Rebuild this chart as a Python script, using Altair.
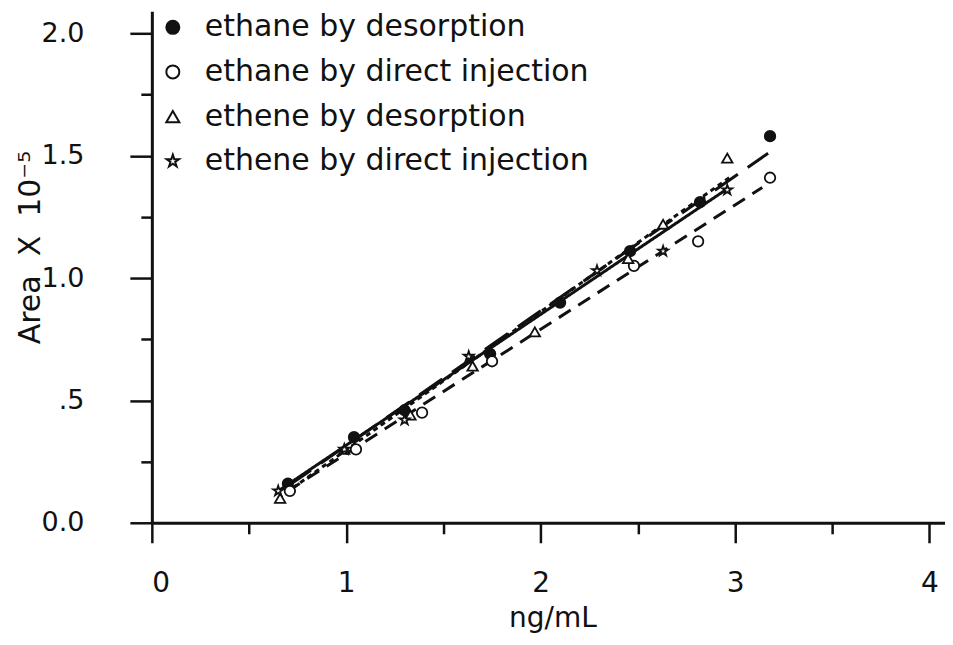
import altair as alt
import pandas as pd

# ---------------- data ----------------
series_names = [
    "ethane by desorption",
    "ethane by direct injection",
    "ethene by desorption",
    "ethene by direct injection",
]

x_ethane_desorption = [0.70, 1.04, 1.30, 1.74, 2.10, 2.46, 2.82, 3.18]
y_ethane_desorption = [0.16, 0.35, 0.46, 0.69, 0.90, 1.11, 1.31, 1.58]

x_ethane_direct = [0.71, 1.05, 1.39, 1.75, 2.48, 2.81, 3.18]
y_ethane_direct = [0.13, 0.30, 0.45, 0.66, 1.05, 1.15, 1.41]

x_ethene_desorption = [0.66, 0.99, 1.33, 1.65, 1.97, 2.45, 2.63, 2.96]
y_ethene_desorption = [0.10, 0.30, 0.44, 0.64, 0.78, 1.08, 1.22, 1.49]

x_ethene_direct = [0.65, 0.99, 1.30, 1.63, 2.29, 2.63, 2.96]
y_ethene_direct = [0.13, 0.30, 0.42, 0.68, 1.03, 1.11, 1.36]

# fitted lines (end points)
fit_x_start = [0.70, 0.70, 0.65, 0.65]
fit_y_start = [0.15, 0.13, 0.10, 0.13]
fit_x_end = [3.17, 3.14, 2.97, 2.97]
fit_y_end = [1.51, 1.37, 1.41, 1.37]

x_tick_values = [0, 0.5, 1, 1.5, 2, 2.5, 3, 3.5, 4]
x_label_values = [0, 1, 2, 3, 4]
x_label_texts = ["0", "1", "2", "3", "4"]
y_tick_values = [0, 0.25, 0.5, 0.75, 1.0, 1.25, 1.5, 1.75, 2.0]
y_label_values = [0, 0.5, 1.0, 1.5, 2.0]
y_label_texts = ["0.0", ".5", "1.0", "1.5", "2.0"]

# ---------------- styles ----------------
STAR = ("M0,-1L0.2245,-0.309L0.951,-0.309L0.3633,0.118L0.5878,0.809L0,0.382"
        "L-0.5878,0.809L-0.3633,0.118L-0.951,-0.309L-0.2245,-0.309Z")
marker_shapes = ["circle", "circle", "triangle-up", STAR]
marker_fills = ["#111111", "white", "white", "white"]
line_dashes = [[28, 12], [14, 9], [5, 4], [1, 0]]
FONT = "DejaVu Sans"
INK = "#111111"

# ---------------- tables ----------------
xs = [x_ethane_desorption, x_ethane_direct, x_ethene_desorption, x_ethene_direct]
ys = [y_ethane_desorption, y_ethane_direct, y_ethene_desorption, y_ethene_direct]
rows = []
for name, xv, yv in zip(series_names, xs, ys):
    for a, b in zip(xv, yv):
        rows.append({"series": name, "x": a, "y": b})
points = pd.DataFrame(rows)

lrows = []
for i, name in enumerate(series_names):
    lrows.append({"series": name, "x": fit_x_start[i], "y": fit_y_start[i]})
    lrows.append({"series": name, "x": fit_x_end[i], "y": fit_y_end[i]})
lines = pd.DataFrame(lrows)

legend_table = pd.DataFrame({"series": series_names})


def label_expr(values, texts):
    expr = "''"
    for v, t in reversed(list(zip(values, texts))):
        expr = f"abs(datum.value - {v}) < 1e-6 ? '{t}' : ({expr})"
    return expr


x_enc = alt.X(
    "x:Q",
    scale=alt.Scale(domain=[0, 4.08], nice=False, zero=False),
    axis=alt.Axis(
        values=x_tick_values,
        labelExpr=label_expr(x_label_values, x_label_texts),
        tickSize={"condition": {"test": "datum.value % 1 === 0", "value": 20}, "value": 11},
        labelPadding=27,
        title="ng/mL",
        titleX=401,
        titleY=104,
        titleAlign="center",
        titleBaseline="alphabetic",
        grid=False,
    ),
)
y_enc = alt.Y(
    "y:Q",
    scale=alt.Scale(domain=[0, 2.09], nice=False, zero=False),
    axis=alt.Axis(
        values=y_tick_values,
        labelExpr=label_expr(y_label_values, y_label_texts),
        tickSize={"condition": {"test": "datum.value % 0.5 === 0", "value": 22}, "value": 11},
        labelPadding=46,
        labelFontSize=27,
        title="Area\u00a0\u00a0X\u00a0\u00a010\u207b\u2075",
        titleX=-121,
        titleY=236,
        titleAngle=270,
        titleAlign="center",
        titleBaseline="middle",
        titleFontSize=30,
        grid=False,
    ),
)

shape_scale = alt.Scale(domain=series_names, range=marker_shapes)
fill_scale = alt.Scale(domain=series_names, range=marker_fills)

line_layer = alt.Chart(lines).mark_line(strokeWidth=3, color=INK).encode(
    x=x_enc,
    y=y_enc,
    detail="series:N",
    strokeDash=alt.StrokeDash(
        "series:N",
        scale=alt.Scale(domain=series_names, range=line_dashes),
        legend=None,
    ),
)

point_layer = alt.Chart(points).mark_point(
    filled=True, stroke=INK, strokeWidth=1.8, size=110, opacity=1
).encode(
    x=x_enc,
    y=y_enc,
    shape=alt.Shape("series:N", scale=shape_scale, legend=None),
    fill=alt.Fill("series:N", scale=fill_scale, legend=None),
)

plot = alt.layer(line_layer, point_layer)

# legend drawn from the series table, rows placed by a point scale
legend_y = alt.Y(
    "series:N",
    scale=alt.Scale(domain=series_names, range=[16, 150], padding=0),
    axis=None,
)
legend_symbols = alt.Chart(legend_table).mark_point(
    filled=True, stroke=INK, strokeWidth=2, size=170, opacity=1
).encode(
    x=alt.value(21),
    y=legend_y,
    shape=alt.Shape("series:N", scale=shape_scale, legend=None),
    fill=alt.Fill("series:N", scale=fill_scale, legend=None),
)
legend_text = alt.Chart(legend_table).mark_text(
    align="left", baseline="middle", font=FONT, fontSize=30, color=INK
).encode(
    x=alt.value(53),
    y=legend_y,
    text="series:N",
)
legend_layer = alt.layer(legend_symbols, legend_text)

chart = (
    alt.layer(plot, legend_layer)
    .resolve_scale(y="independent")
    .properties(
        width=794,
        height=512,
        padding={"left": 144, "top": 3, "right": 0, "bottom": 111},
        autosize=alt.AutoSizeParams(type="none"),
        background="white",
    )
    .configure_view(strokeWidth=0)
    .configure_axis(
        labelFont=FONT,
        labelFontSize=28,
        labelColor=INK,
        titleFont=FONT,
        titleFontSize=28,
        titleFontWeight="normal",
        titleColor=INK,
        domainColor=INK,
        domainWidth=3,
        tickColor=INK,
        tickWidth=2.5,
    )
)

chart.save("out.html", embed_options={"renderer": "svg", "actions": False})
